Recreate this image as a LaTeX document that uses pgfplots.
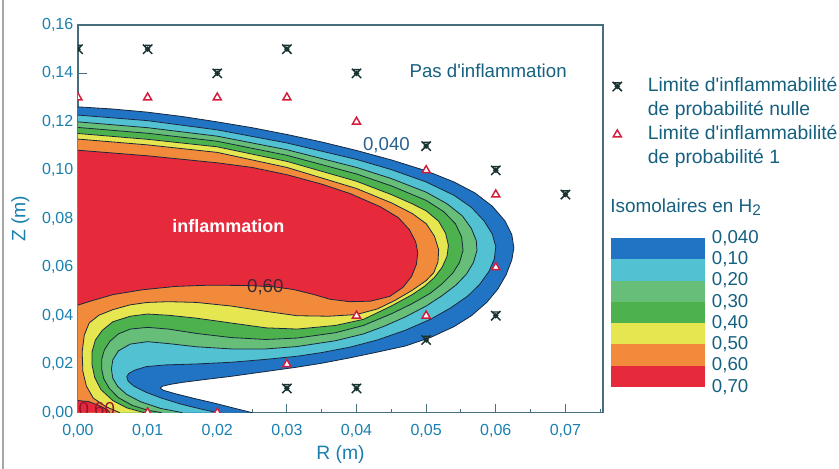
\documentclass[border=0pt]{standalone}
\usepackage{pgfplots}
\pgfplotsset{compat=1.18}
\usepackage{pgfplotstable}
\usepackage{fontspec}
\setmainfont{Liberation Sans}

\definecolor{cblue}{RGB}{33,115,196}
\definecolor{ccyan}{RGB}{82,194,210}
\definecolor{clgreen}{RGB}{102,190,120}
\definecolor{cgreen}{RGB}{77,178,77}
\definecolor{cyellow}{RGB}{230,230,80}
\definecolor{corange}{RGB}{242,138,60}
\definecolor{cred}{RGB}{230,42,60}
\definecolor{cline}{RGB}{25,40,60}
\definecolor{axisc}{RGB}{70,110,125}
\definecolor{tickc}{RGB}{25,128,176}
\definecolor{legc}{RGB}{22,96,128}
\definecolor{xmark}{RGB}{25,50,50}
\definecolor{tri}{RGB}{210,30,60}
\definecolor{lab}{RGB}{42,96,144}
\definecolor{labd}{RGB}{60,40,48}
\definecolor{labr}{RGB}{150,20,40}

\pgfdeclareplotmark{xstar}{%
 \pgfpathmoveto{\pgfqpoint{-\pgfplotmarksize}{-\pgfplotmarksize}}%
 \pgfpathlineto{\pgfqpoint{\pgfplotmarksize}{\pgfplotmarksize}}%
 \pgfpathmoveto{\pgfqpoint{-\pgfplotmarksize}{\pgfplotmarksize}}%
 \pgfpathlineto{\pgfqpoint{\pgfplotmarksize}{-\pgfplotmarksize}}%
 \pgfpathmoveto{\pgfqpoint{-0.6\pgfplotmarksize}{0.8\pgfplotmarksize}}%
 \pgfpathlineto{\pgfqpoint{0.6\pgfplotmarksize}{0.8\pgfplotmarksize}}%
 \pgfusepathqstroke
 \pgfpathcircle{\pgfpointorigin}{0.4\pgfplotmarksize}%
 \pgfusepathqstroke
}

% contour 0.040
\pgfplotstableread{
R Z
0 0.1262
0.005 0.1253
0.010 0.1240
0.015 0.1222
0.020 0.1200
0.025 0.1176
0.030 0.1148
0.035 0.1117
0.040 0.1082
0.045 0.1043
0.050 0.0998
0.054 0.0952
0.057 0.0907
0.0595 0.0852
0.0613 0.0792
0.0623 0.0735
0.0626 0.0680
0.0623 0.0630
0.0615 0.0570
0.0603 0.0510
0.0587 0.0455
0.0565 0.0400
0.0540 0.0355
0.0506 0.0310
0.0470 0.0275
0.0430 0.0250
0.0390 0.0226
0.0350 0.0204
0.0315 0.0188
0.0270 0.0170
0.0220 0.0150
0.0180 0.0136
0.0150 0.0125
0.0133 0.0117
0.0121 0.0109
0.0118 0.0101
0.0123 0.0092
0.0140 0.0078
0.0165 0.0060
0.0195 0.0040
0.0225 0.0018
0.0250 0
}\cA
% contour 0.10
\pgfplotstableread{
R Z
0 0.1228
0.010 0.1205
0.020 0.1167
0.030 0.1113
0.040 0.1045
0.045 0.1003
0.050 0.0952
0.054 0.0897
0.0565 0.0847
0.0583 0.0792
0.0595 0.0737
0.0600 0.0685
0.0598 0.0635
0.0590 0.0582
0.0577 0.0530
0.0560 0.0482
0.0535 0.0432
0.0506 0.0385
0.0470 0.0340
0.0430 0.0300
0.0390 0.0270
0.0350 0.0248
0.0315 0.0233
0.0270 0.0220
0.0220 0.0208
0.0170 0.0201
0.0125 0.0197
0.0098 0.0190
0.0082 0.0176
0.0073 0.0162
0.0070 0.0148
0.0072 0.0130
0.0080 0.0110
0.0097 0.0085
0.0120 0.0060
0.0147 0.0036
0.0175 0.0016
0.0200 0
}\cB
% contour 0.20
\pgfplotstableread{
R Z
0 0.1200
0.010 0.1176
0.020 0.1141
0.030 0.1085
0.040 0.1012
0.045 0.0966
0.050 0.0910
0.053 0.0862
0.0552 0.0812
0.0565 0.0760
0.0572 0.0710
0.0573 0.0670
0.0568 0.0620
0.0558 0.0572
0.0543 0.0527
0.0523 0.0483
0.0500 0.0440
0.0470 0.0395
0.0440 0.0357
0.0410 0.0325
0.0370 0.0297
0.0315 0.0273
0.0270 0.0263
0.0220 0.0263
0.0170 0.0272
0.0130 0.0285
0.0100 0.0293
0.0075 0.0283
0.0058 0.0255
0.0050 0.0218
0.0048 0.0180
0.0050 0.0142
0.0057 0.0108
0.0070 0.0075
0.0090 0.0045
0.0118 0.0018
0.0150 0
}\cC
% contour 0.30
\pgfplotstableread{
R Z
0 0.1177
0.010 0.1153
0.020 0.1120
0.030 0.1062
0.040 0.0985
0.045 0.0936
0.050 0.0876
0.0525 0.0830
0.0542 0.0780
0.0551 0.0725
0.0553 0.0670
0.0548 0.0620
0.0538 0.0575
0.0523 0.0532
0.0506 0.0493
0.0480 0.0450
0.0450 0.0408
0.0410 0.0360
0.0370 0.0330
0.0315 0.0308
0.0270 0.0302
0.0220 0.0310
0.0170 0.0327
0.0130 0.0345
0.0100 0.0352
0.0075 0.0345
0.0058 0.0325
0.0046 0.0295
0.0038 0.0260
0.0034 0.0220
0.0034 0.0180
0.0037 0.0140
0.0045 0.0100
0.0058 0.0062
0.0078 0.0030
0.0100 0.0010
0.0120 0
}\cD
% contour 0.40
\pgfplotstableread{
R Z
0 0.1152
0.010 0.1128
0.020 0.1097
0.030 0.1037
0.040 0.0955
0.045 0.0900
0.048 0.0862
0.050 0.0833
0.0518 0.0790
0.0528 0.0740
0.0532 0.0690
0.0530 0.0645
0.0523 0.0600
0.0512 0.0558
0.0498 0.0522
0.0480 0.0487
0.0450 0.0440
0.0410 0.0385
0.0370 0.0360
0.0315 0.0345
0.0270 0.0350
0.0220 0.0370
0.0170 0.0390
0.0130 0.0402
0.0100 0.0407
0.0075 0.0398
0.0050 0.0375
0.0035 0.0340
0.0025 0.0300
0.0020 0.0250
0.0020 0.0200
0.0024 0.0145
0.0033 0.0095
0.0050 0.0050
0.0070 0.0020
0.0095 0
}\cE
% contour 0.50
\pgfplotstableread{
R Z
0 0.1129
0.010 0.1105
0.020 0.1074
0.030 0.1012
0.040 0.0925
0.045 0.0866
0.048 0.0822
0.0500 0.0780
0.0512 0.0728
0.0518 0.0672
0.0517 0.0622
0.0511 0.0578
0.0500 0.0545
0.0480 0.0505
0.0455 0.0463
0.0430 0.0428
0.0400 0.0405
0.0360 0.0398
0.0315 0.0400
0.0270 0.0418
0.0220 0.0440
0.0170 0.0455
0.0130 0.0458
0.0100 0.0455
0.0075 0.0445
0.0050 0.0425
0.0030 0.0402
0.0016 0.0370
0.0009 0.0320
0.0006 0.0250
0.0007 0.0170
0.0012 0.0110
0.0022 0.0060
0.0040 0.0025
0.0060 0
}\cF
% contour 0.60 (main)
\pgfplotstableread{
R Z
0 0.1083
0.010 0.1060
0.020 0.1031
0.025 0.1012
0.030 0.0982
0.035 0.0943
0.039 0.0905
0.0434 0.0850
0.0460 0.0805
0.0476 0.0755
0.0485 0.0705
0.0488 0.0660
0.0486 0.0612
0.0479 0.0562
0.0467 0.0518
0.0448 0.0480
0.0420 0.0460
0.0390 0.0458
0.0362 0.0468
0.0338 0.0488
0.0310 0.0508
0.0280 0.0520
0.0240 0.0525
0.0187 0.0526
0.0140 0.0521
0.0092 0.0507
0.0050 0.0487
0.0020 0.0462
0 0.0444
}\cG
% contour 0.60 (corner)
\pgfplotstableread{
R Z
0 0.0050
0.0015 0.0046
0.0030 0.0030
0.0042 0.0012
0.0046 0
}\cH

\begin{document}
\begin{tikzpicture}
\useasboundingbox (-58.5pt,-42.2pt) rectangle (570.75pt,309.5pt);
\draw[gray!70, line width=1.2pt] (-56.25pt,-42.2pt) -- (-56.25pt,309.5pt);
\begin{axis}[
  name=main, at={(0,0)}, anchor=south west,
  scale only axis, width=393.75pt, height=290.8pt,
  xmin=0, xmax=0.0754, ymin=0, ymax=0.16,
  xtick={0,0.01,0.02,0.03,0.04,0.05,0.06,0.07},
  xticklabels={{0,00},{0,01},{0,02},{0,03},{0,04},{0,05},{0,06},{0,07}},
  minor xtick={0.005,0.015,0.025,0.035,0.045,0.055,0.065,0.075},
  ytick={0,0.02,0.04,0.06,0.08,0.10,0.12,0.14,0.16},
  yticklabels={{0,00},{0,02},{0,04},{0,06},{0,08},{0,10},{0,12},{0,14},{0,16}},
  scaled ticks=false,
  tick pos=left, tick align=inside,
  major tick length=6.5pt, minor tick length=3pt,
  tick style={axisc, line width=0.8pt},
  axis line style={axisc, line width=1.1pt},
  tick label style={font=\fontsize{12}{13}\selectfont, text=tickc},
  xticklabel style={yshift=-5pt},
  xlabel={R (m)}, ylabel={Z (m)},
  label style={font=\fontsize{14.5}{16}\selectfont, text=tickc},
  xlabel style={at={(axis description cs:0.5,-0.109)}, anchor=center},
  ylabel style={at={(axis description cs:-0.11,0.5)}, anchor=center},
  clip marker paths=true,
  legend cell align=left,
  legend style={at={(axis description cs:1.005,0.8676)}, anchor=north west,
    draw=none, fill=none, inner sep=0pt, row sep=3pt,
    nodes={inner sep=0pt, text height=11pt, text depth=4pt,
      font=\fontsize{14.5}{16}\selectfont, text=legc},
    /tikz/every odd column/.append style={column sep=19.5pt}},
]
\addplot[fill=cblue, draw=none, forget plot] table {\cA} \closedcycle;
\addplot[fill=ccyan, draw=none, forget plot] table {\cB} \closedcycle;
\addplot[fill=clgreen, draw=none, forget plot] table {\cC} \closedcycle;
\addplot[fill=cgreen, draw=none, forget plot] table {\cD} \closedcycle;
\addplot[fill=cyellow, draw=none, forget plot] table {\cE} \closedcycle;
\addplot[fill=corange, draw=none, forget plot] table {\cF} \closedcycle;
\addplot[fill=cred, draw=none, forget plot] table {\cG} \closedcycle;
\addplot[fill=cred, draw=none, forget plot] table {\cH} \closedcycle;

\addplot[cline, line width=0.6pt, forget plot] table {\cA};
\addplot[cline, line width=0.6pt, forget plot] table {\cB};
\addplot[cline, line width=0.6pt, forget plot] table {\cC};
\addplot[cline, line width=0.6pt, forget plot] table {\cD};
\addplot[cline, line width=0.6pt, forget plot] table {\cE};
\addplot[cline, line width=0.6pt, forget plot] table {\cF};
\addplot[cline, line width=0.6pt, forget plot] table {\cG};
\addplot[cline, line width=0.6pt, forget plot] table {\cH};

\node[text=legc, font=\fontsize{14}{16}\selectfont] at (axis cs:0.0589,0.1409) {Pas d\textquotesingle inflammation};
\node[text=white, font=\bfseries\fontsize{13.5}{16}\selectfont] at (axis cs:0.0216,0.0770) {inflammation};
\node[text=lab, font=\fontsize{14}{16}\selectfont] at (axis cs:0.0443,0.1103) {0,040};
\node[text=labd, font=\fontsize{14}{16}\selectfont] at (axis cs:0.0269,0.0518) {0,60};
\begin{scope}
\clip (rel axis cs:0,0) rectangle (rel axis cs:1,1);
\node[text=labr, font=\fontsize{14}{16}\selectfont] at (axis cs:0.0027,0.0012) {0,60};
\end{scope}

\addplot[only marks, mark=xstar, mark size=3.5pt, xmark, line width=1.1pt] coordinates {
(0,0.15) (0.01,0.15) (0.03,0.15) (0.02,0.14) (0.04,0.14) (0.05,0.11)
(0.06,0.10) (0.07,0.09) (0.06,0.04) (0.05,0.03) (0.03,0.01) (0.04,0.01)};
\addlegendentry{Limite d\textquotesingle inflammabilité}
\addlegendimage{empty legend}
\addlegendentry{de probabilité nulle}
\addplot[only marks, mark=triangle*, mark size=3.5pt, tri, line width=1.1pt, mark options={fill=white}] coordinates {
(0,0.13) (0.01,0.13) (0.02,0.13) (0.03,0.13) (0.04,0.12) (0.05,0.10)
(0.06,0.09) (0.06,0.06) (0.05,0.04) (0.04,0.04) (0.03,0.02) (0.01,0) (0.02,0)};
\addlegendentry{Limite d\textquotesingle inflammabilité}
\addlegendimage{empty legend}
\addlegendentry{de probabilité 1}
\end{axis}

\node[anchor=west, text=legc, font=\fontsize{14.2}{16}\selectfont, inner sep=0pt] at (399pt,154.3pt) {Isomolaires en H\raisebox{-0.35ex}{\fontsize{11.5}{12}\selectfont 2}};

\begin{axis}[
  at={(399.75pt,19.3pt)}, anchor=south west,
  scale only axis, width=70.5pt, height=111.7pt,
  xmin=0, xmax=1, ymin=0, ymax=7, y dir=reverse,
  axis line style={draw=none}, xtick=\empty,
  ytick={0,1,2,3,4,5,6,7},
  yticklabels={{0,040},{0,10},{0,20},{0,30},{0,40},{0,50},{0,60},{0,70}},
  yticklabel pos=right, major tick length=0pt,
  yticklabel style={font=\fontsize{14}{15}\selectfont, text=legc, inner xsep=1pt, xshift=4pt},
  clip=false,
]
\addplot[fill=cblue, draw=none] coordinates {(0,0) (1,0) (1,1) (0,1)};
\addplot[fill=ccyan, draw=none] coordinates {(0,1) (1,1) (1,2) (0,2)};
\addplot[fill=clgreen, draw=none] coordinates {(0,2) (1,2) (1,3) (0,3)};
\addplot[fill=cgreen, draw=none] coordinates {(0,3) (1,3) (1,4) (0,4)};
\addplot[fill=cyellow, draw=none] coordinates {(0,4) (1,4) (1,5) (0,5)};
\addplot[fill=corange, draw=none] coordinates {(0,5) (1,5) (1,6) (0,6)};
\addplot[fill=cred, draw=none] coordinates {(0,6) (1,6) (1,7) (0,7)};
\end{axis}
\end{tikzpicture}
\end{document}
